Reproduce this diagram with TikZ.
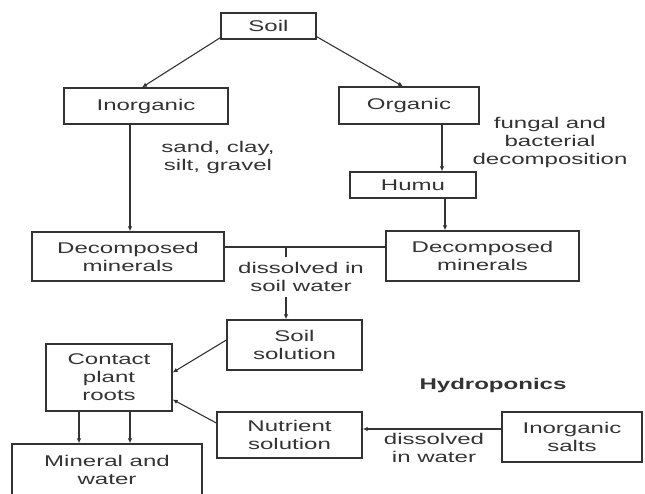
\documentclass[tikz,border=0pt]{standalone}
\usepackage{fontspec}
\setmainfont{Liberation Sans}[FakeStretch=1.55]
\usetikzlibrary{arrows.meta}
\definecolor{ink}{HTML}{333333}
\tikzset{
  box/.style={draw=ink, line width=1.3pt, inner sep=0pt, align=center, text=ink},
  conn/.style={draw=ink, line width=1.1pt},
  arr/.style={conn, -{Latex[length=5pt,width=4.5pt]}},
  lbl/.style={text=ink, align=center, inner sep=0pt},
}
\begin{document}
\begin{tikzpicture}[x=1pt,y=-1pt,font=\fontsize{15.5}{18}\selectfont]
\useasboundingbox (0,0) rectangle (645,493);
\clip (0,0) rectangle (645,493);
\node[box, minimum width=95pt, minimum height=26pt] (soil) at (268.5,26) {Soil};
\node[box, minimum width=164pt, minimum height=36pt] (inorg) at (146,106) {Inorganic};
\node[box, minimum width=140pt, minimum height=37pt] (org) at (409,105.5) {Organic};
\node[box, minimum width=126pt, minimum height=26pt] (humu) at (413,185) {Humu};
\node[box, minimum width=192pt, minimum height=49pt] (decL) at (128,256.5) {Decomposed\\minerals};
\node[box, minimum width=193pt, minimum height=50pt] (decR) at (482.5,256) {Decomposed\\minerals};
\node[box, minimum width=135pt, minimum height=50pt] (soilsol) at (294.5,345) {Soil\\solution};
\node[box, minimum width=126pt, minimum height=67pt] (contact) at (109,377.5) {Contact\\plant\\roots};
\node[box, minimum width=190pt, minimum height=52pt] (mineral) at (107,470) {Mineral and\\water};
\node[box, minimum width=145pt, minimum height=46pt] (nutrient) at (289.5,435) {Nutrient\\solution};
\node[box, minimum width=140pt, minimum height=50pt] (salts) at (572,437) {Inorganic\\salts};

\draw[arr] ([yshift=2pt]soil.south west) -- ([xshift=-4pt]inorg.north);
\draw[arr] ([yshift=3pt]soil.south east) -- ([xshift=-6pt]org.north);
\draw[arr] ([xshift=-16pt]inorg.south) -- ([xshift=-16pt]inorg.south |- decL.north);
\draw[arr] ([xshift=33pt]org.south) -- ([xshift=33pt]org.south |- humu.north);
\draw[arr] ([xshift=32pt]humu.south) -- ([xshift=32pt]humu.south |- decR.north);
\coordinate (j) at (286,247);
\draw[conn] (decL.east |- j) -- (decR.west |- j);
\draw[arr] (j) -- (j |- soilsol.north);
\node[lbl, fill=white, inner sep=5pt] (dsw) at (301,277) {dissolved in\\soil water};
\draw[arr] ([yshift=5pt]soilsol.west) -- ([yshift=5pt]contact.east);
\draw[arr] ([yshift=12pt]nutrient.west) -- ([yshift=-22pt]contact.east);
\draw[arr] ([xshift=-30pt]contact.south) -- ([xshift=-30pt]contact.south |- mineral.north);
\draw[arr] ([xshift=21pt]contact.south) -- ([xshift=21pt]contact.south |- mineral.north);
\draw[arr] ([yshift=8pt]salts.west) -- ([yshift=8pt]salts.west -| nutrient.east);

\node[lbl] (sand) at (218,157.5) {sand, clay,\\silt, gravel};
\node[lbl] (fungal) at (550,142) {fungal and\\bacterial\\decomposition};
\node[lbl, font=\fontsize{15.5}{18}\selectfont\bfseries] (hydro) at (493,385) {Hydroponics};
\node[lbl] (diw) at (434,447.5) {dissolved\\in water};
\end{tikzpicture}
\end{document}
